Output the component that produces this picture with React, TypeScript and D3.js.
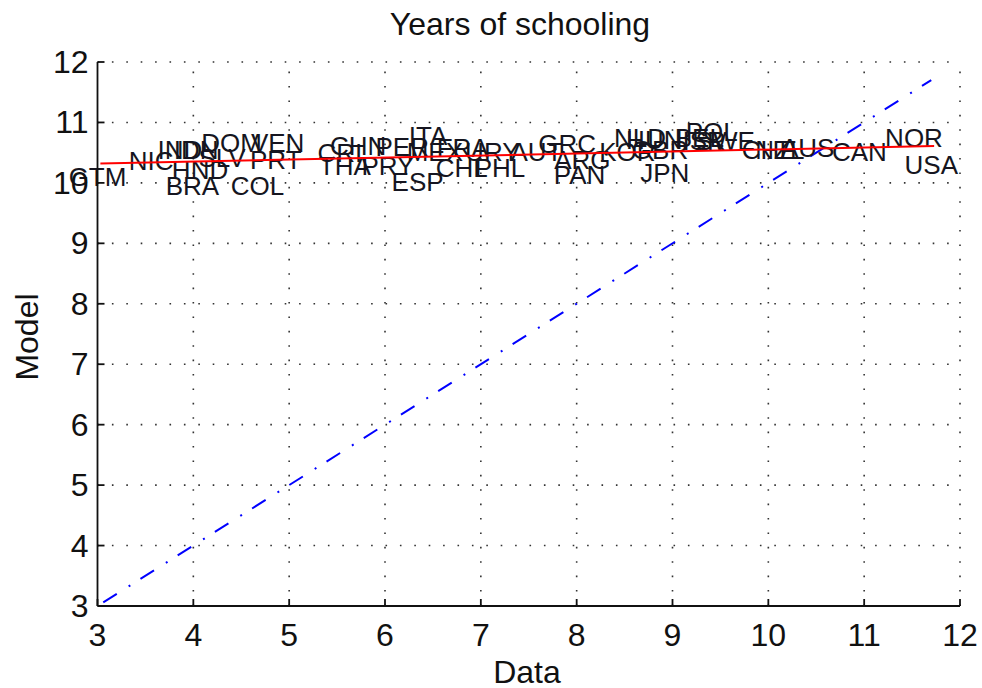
import { useMemo } from "react";
import * as d3 from "d3";

const WIDTH = 982;
const HEIGHT = 688;
const MARGIN = { top: 62, right: 22, bottom: 82, left: 97.5 };
const FONT = "'Liberation Sans', Arial, Helvetica, sans-serif";

// country codes, years of schooling in the data, and what the model predicts
const countries = [
  "GTM", "NIC", "IND", "IDN", "SLV", "HND", "BRA", "COL", "DOM", "VEN",
  "PRT", "CRI", "THA", "CHN", "PRY", "PER", "ITA", "ESP", "MEX", "FRA",
  "URY", "CHL", "PHL", "AUT", "GRC", "ARG", "PAN", "KOR", "NLD", "HUN",
  "GBR", "JPN", "POL", "BEL", "ISR", "SWE", "CHE", "NZL", "AUS", "CAN",
  "NOR", "USA",
];
const dataValues = [
  3.0, 3.56, 3.86, 4.03, 4.3, 4.07, 3.99, 4.67, 4.4, 4.88,
  4.86, 5.53, 5.58, 5.72, 6.03, 6.18, 6.45, 6.34, 6.52, 6.81,
  7.12, 6.8, 7.2, 7.58, 7.9, 8.06, 8.03, 8.53, 8.66, 8.81,
  8.87, 8.92, 9.41, 9.28, 9.33, 9.55, 10.01, 10.12, 10.41, 10.95,
  11.52, 11.7,
];
const modelValues = [
  10.09, 10.36, 10.54, 10.54, 10.41, 10.21, 9.95, 9.95, 10.66, 10.66,
  10.38, 10.49, 10.28, 10.61, 10.28, 10.59, 10.77, 10.01, 10.51, 10.57,
  10.51, 10.24, 10.24, 10.51, 10.64, 10.38, 10.13, 10.51, 10.74, 10.71,
  10.54, 10.16, 10.85, 10.74, 10.69, 10.69, 10.54, 10.54, 10.57, 10.51,
  10.74, 10.29,
];

// fitted model line (red) and the 45 degree line (blue)
const fitX = [3.03, 11.73];
const fitY = [10.32, 10.61];
const diagonal = [3.06, 11.7];

const xTicks = [3, 4, 5, 6, 7, 8, 9, 10, 11, 12];
const yTicks = [3, 4, 5, 6, 7, 8, 9, 10, 11, 12];

export default function App() {
  const boundsWidth = WIDTH - MARGIN.left - MARGIN.right;
  const boundsHeight = HEIGHT - MARGIN.top - MARGIN.bottom;

  const xScale = useMemo(
    () => d3.scaleLinear().domain([3, 12]).range([0, boundsWidth]),
    [boundsWidth]
  );
  const yScale = useMemo(
    () => d3.scaleLinear().domain([3, 12]).range([boundsHeight, 0]),
    [boundsHeight]
  );

  const line = d3
    .line<[number, number]>()
    .x((d) => xScale(d[0]))
    .y((d) => yScale(d[1]));

  const fitPath = line(fitX.map((x, i) => [x, fitY[i]]));
  const diagPath = line(diagonal.map((v) => [v, v]));

  const grid = (
    <g stroke="#333" strokeWidth={1.6} strokeDasharray="1.6,12.8">
      {xTicks.slice(1).map((t) => (
        <line key={"gx" + t} x1={xScale(t)} x2={xScale(t)} y1={boundsHeight} y2={0} />
      ))}
      {yTicks.slice(1).map((t) => (
        <line key={"gy" + t} x1={0} x2={boundsWidth} y1={yScale(t)} y2={yScale(t)} />
      ))}
    </g>
  );

  return (
    <div style={{ position: "absolute", left: 0, top: 0 }}>
      <svg width={WIDTH} height={HEIGHT} style={{ display: "block", background: "#fff" }}>
        <text
          x={520}
          y={35}
          textAnchor="middle"
          fontFamily={FONT}
          fontSize={32}
          fill="#111"
        >
          Years of schooling
        </text>
        <g transform={`translate(${MARGIN.left},${MARGIN.top})`}>
          {grid}

          {/* 45 degree line */}
          <path
            d={diagPath ?? ""}
            fill="none"
            stroke="#0000ff"
            strokeWidth={2}
            strokeDasharray="16,14,2,12"
          />

          {/* country labels */}
          {countries.map((c, i) => (
            <text
              key={c}
              x={xScale(dataValues[i])}
              y={yScale(modelValues[i])}
              textAnchor="middle"
              dominantBaseline="central"
              fontFamily={FONT}
              fontSize={26}
              fill="#151520"
            >
              {c}
            </text>
          ))}

          {/* model fit */}
          <path d={fitPath ?? ""} fill="none" stroke="#ff0000" strokeWidth={2} />

          {/* axes */}
          <g stroke="#111" strokeWidth={1.8}>
            <line x1={0} x2={boundsWidth} y1={boundsHeight} y2={boundsHeight} />
            <line x1={0} x2={0} y1={0} y2={boundsHeight} />
            {xTicks.map((t) => (
              <line key={"tx" + t} x1={xScale(t)} x2={xScale(t)} y1={boundsHeight} y2={boundsHeight - 7} />
            ))}
            {yTicks.map((t) => (
              <line key={"ty" + t} x1={0} x2={7} y1={yScale(t)} y2={yScale(t)} />
            ))}
          </g>
          {xTicks.map((t) => (
            <text
              key={"lx" + t}
              x={xScale(t)}
              y={boundsHeight + 40}
              textAnchor="middle"
              fontFamily={FONT}
              fontSize={32}
              fill="#111"
            >
              {t}
            </text>
          ))}
          {yTicks.map((t) => (
            <text
              key={"ly" + t}
              x={-9}
              y={yScale(t)}
              textAnchor="end"
              dominantBaseline="central"
              fontFamily={FONT}
              fontSize={32}
              fill="#111"
            >
              {t}
            </text>
          ))}
        </g>
        <text
          x={527}
          y={683}
          textAnchor="middle"
          fontFamily={FONT}
          fontSize={32}
          fill="#111"
        >
          Data
        </text>
        <text
          transform="translate(38,337) rotate(-90)"
          textAnchor="middle"
          fontFamily={FONT}
          fontSize={32}
          fill="#111"
        >
          Model
        </text>
      </svg>
    </div>
  );
}
